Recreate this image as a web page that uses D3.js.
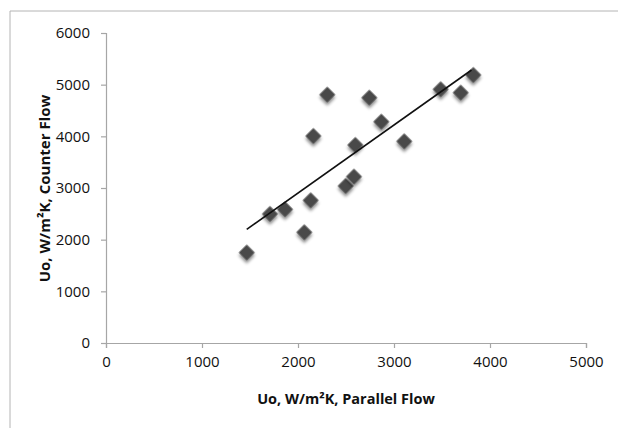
<!DOCTYPE html>
<html>
<head>
<meta charset="utf-8">
<script src="https://cdn.jsdelivr.net/npm/d3@7"></script>
<style>
  body { margin: 0; background: #fff; }
  svg { display: block; }
  .tick text { font-family: "Open Sans", sans-serif; font-size: 15px; fill: #111; }
</style>
</head>
<body>
<div id="chart"></div>
<script>
// Values
const parallelFlow = [1466, 1708, 1865, 2066, 2132, 2160, 2305, 2497, 2583, 2597, 2743, 2868, 3107, 3486, 3695, 3826];
const counterFlow  = [1750, 2497, 2588, 2142, 2761, 4006, 4806, 3039, 3219, 3832, 4748, 4283, 3903, 4910, 4845, 5187];
// Trendline end points
const trendX = [1466, 3808];
const trendY = [2200, 5284];
const xTicks = [0, 1000, 2000, 3000, 4000, 5000];
const yTicks = [0, 1000, 2000, 3000, 4000, 5000, 6000];

const width = 618, height = 428;
const margin = {top: 33, right: 32, bottom: 85, left: 106};

const svg = d3.select("#chart")
    .append("svg")
    .attr("width", width)
    .attr("height", height);

// drop shadow for markers
const defs = svg.append("defs");
defs.append("filter")
    .attr("id", "shadow")
    .attr("x", "-50%").attr("y", "-50%")
    .attr("width", "200%").attr("height", "200%")
    .append("feDropShadow")
    .attr("dx", 2).attr("dy", 2)
    .attr("stdDeviation", 1.6)
    .attr("flood-color", "#000")
    .attr("flood-opacity", 0.45);

// outer frame (top and left edges only)
svg.append("line")
    .attr("x1", 10).attr("y1", 11).attr("x2", width).attr("y2", 11)
    .attr("stroke", "#b4b4b4");
svg.append("line")
    .attr("x1", 10).attr("y1", 11).attr("x2", 10).attr("y2", height)
    .attr("stroke", "#b4b4b4");

const x = d3.scaleLinear()
    .domain([0, 5000])
    .range([margin.left, width - margin.right]);

const y = d3.scaleLinear()
    .domain([0, 6000])
    .range([height - margin.bottom, margin.top]);

// x axis
const xAxis = svg.append("g")
    .attr("transform", `translate(0,${y(0)})`)
    .call(d3.axisBottom(x).tickValues(xTicks).tickSize(5).tickPadding(8).tickFormat(d3.format("d")));

// y axis
const yAxis = svg.append("g")
    .attr("transform", `translate(${x(0)},0)`)
    .call(d3.axisLeft(y).tickValues(yTicks).tickSize(5).tickPadding(11).tickFormat(d3.format("d")));

[xAxis, yAxis].forEach(g => {
    g.select(".domain").attr("stroke", "#a6a6a6").attr("stroke-width", 1.2);
    g.selectAll(".tick line").attr("stroke", "#a6a6a6").attr("stroke-width", 1.2);
});

// markers
const diamond = d3.symbol().type(d3.symbolSquare).size(128);
svg.append("g")
    .selectAll("path")
    .data(parallelFlow.map((v, i) => [v, counterFlow[i]]))
    .enter()
    .append("path")
    .attr("d", diamond)
    .attr("transform", d => `translate(${x(d[0])},${y(d[1])}) rotate(45)`)
    .attr("fill", "#4a4a4a")
    .attr("filter", "url(#shadow)");

// trendline
svg.append("line")
    .attr("x1", x(trendX[0])).attr("y1", y(trendY[0]))
    .attr("x2", x(trendX[1])).attr("y2", y(trendY[1]))
    .attr("stroke", "#111")
    .attr("stroke-width", 1.6);

// axis titles
svg.append("text")
    .attr("x", 346)
    .attr("y", 404)
    .attr("text-anchor", "middle")
    .style("font-family", "'Open Sans', sans-serif")
    .style("font-weight", "bold")
    .style("font-size", "14.5px")
    .style("fill", "#111")
    .text("Uo, W/m²K, Parallel Flow");

svg.append("text")
    .attr("transform", `translate(50,188.5) rotate(-90)`)
    .attr("text-anchor", "middle")
    .style("font-family", "'Open Sans', sans-serif")
    .style("font-weight", "bold")
    .style("font-size", "15px")
    .style("fill", "#111")
    .text("Uo, W/m²K, Counter Flow");
</script>
</body>
</html>
